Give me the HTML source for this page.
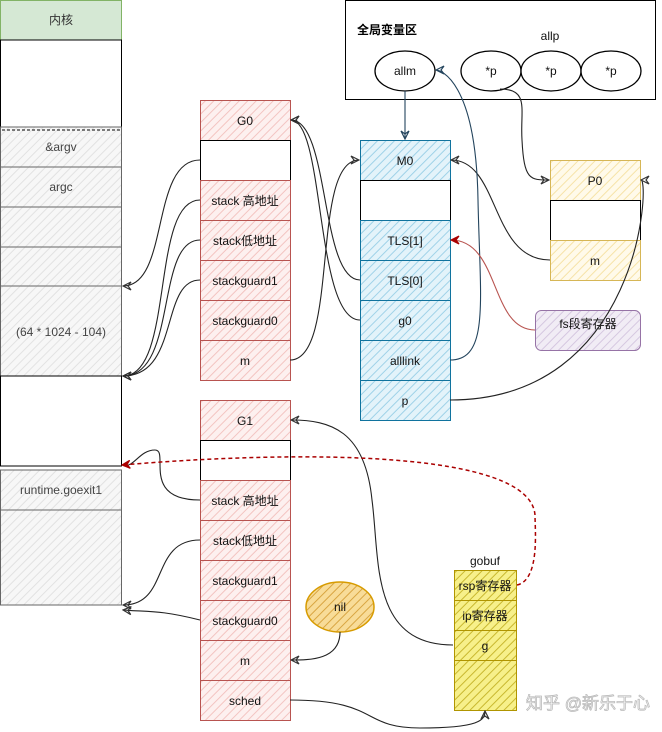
<!DOCTYPE html>
<html><head><meta charset="utf-8"><style>
html,body{margin:0;padding:0;background:#fff;}
svg{display:block;font-family:"Liberation Sans","Noto Sans CJK SC",sans-serif;}
</style></head><body>
<svg width="662" height="732" viewBox="0 0 662 732" xmlns="http://www.w3.org/2000/svg">
<defs>
<pattern id="hg" width="6" height="6" patternUnits="userSpaceOnUse" patternTransform="rotate(45)"><rect width="6" height="6" fill="#f7f7f7"/><line x1="0" y1="0" x2="0" y2="6" stroke="#e2e2e2" stroke-width="2"/></pattern>
<pattern id="hr" width="6" height="6" patternUnits="userSpaceOnUse" patternTransform="rotate(45)"><rect width="6" height="6" fill="#fdf0ef"/><line x1="0" y1="0" x2="0" y2="6" stroke="#f3c4c1" stroke-width="2"/></pattern>
<pattern id="hb" width="6" height="6" patternUnits="userSpaceOnUse" patternTransform="rotate(45)"><rect width="6" height="6" fill="#e3f3fa"/><line x1="0" y1="0" x2="0" y2="6" stroke="#9fd2e8" stroke-width="2"/></pattern>
<pattern id="hy" width="6" height="6" patternUnits="userSpaceOnUse" patternTransform="rotate(45)"><rect width="6" height="6" fill="#fffaea"/><line x1="0" y1="0" x2="0" y2="6" stroke="#f6e3a8" stroke-width="2"/></pattern>
<pattern id="hp" width="6" height="6" patternUnits="userSpaceOnUse" patternTransform="rotate(45)"><rect width="6" height="6" fill="#f1ecf5"/><line x1="0" y1="0" x2="0" y2="6" stroke="#d5c7e0" stroke-width="2"/></pattern>
<pattern id="hY" width="6" height="6" patternUnits="userSpaceOnUse" patternTransform="rotate(45)"><rect width="6" height="6" fill="#f7f08a"/><line x1="0" y1="0" x2="0" y2="6" stroke="#c9b830" stroke-width="2"/></pattern>
<pattern id="hO" width="6" height="6" patternUnits="userSpaceOnUse" patternTransform="rotate(45)"><rect width="6" height="6" fill="#f8dc98"/><line x1="0" y1="0" x2="0" y2="6" stroke="#d8a440" stroke-width="2"/></pattern>
<marker id="ar" markerWidth="10" markerHeight="10" refX="9" refY="5" orient="auto" markerUnits="userSpaceOnUse"><path d="M1,1 L9,5 L1,9 L4,5 Z" fill="none" stroke="#333" stroke-width="1.2"/></marker>
<marker id="arB" markerWidth="10" markerHeight="10" refX="9" refY="5" orient="auto" markerUnits="userSpaceOnUse"><path d="M1,1 L9,5 L1,9 L4,5 Z" fill="none" stroke="#23445d" stroke-width="1.2"/></marker>
<marker id="arR" markerWidth="10" markerHeight="10" refX="9" refY="5" orient="auto" markerUnits="userSpaceOnUse"><path d="M1,1 L9,5 L1,9 L4,5 Z" fill="#a00" stroke="#a00" stroke-width="1.2"/></marker>
</defs>

<!-- left column -->
<g font-size="12" fill="#333" text-anchor="middle">
<rect x="0.5" y="0.5" width="121" height="39.5" fill="#d5e8d4" stroke="#82b366"/>
<text x="61" y="24">内核</text>
<rect x="0.5" y="40" width="121" height="87" fill="#fff" stroke="#000"/>
<rect x="0.5" y="127" width="121" height="40" fill="url(#hg)" stroke="#666"/>
<line x1="2" y1="130" x2="120" y2="130" stroke="#000" stroke-dasharray="3,2"/>
<text x="61" y="151" fill="#444">&amp;argv</text>
<rect x="0.5" y="167" width="121" height="40" fill="url(#hg)" stroke="#666"/>
<text x="61" y="191" fill="#444">argc</text>
<rect x="0.5" y="207" width="121" height="40" fill="url(#hg)" stroke="#666"/>
<rect x="0.5" y="247" width="121" height="39" fill="url(#hg)" stroke="#666"/>
<rect x="0.5" y="286" width="121" height="90" fill="url(#hg)" stroke="#666"/>
<text x="61" y="336" fill="#444">(64 * 1024 - 104)</text>
<rect x="0.5" y="376" width="121" height="90" fill="#fff" stroke="#000"/>
<rect x="0.5" y="470" width="121" height="40" fill="url(#hg)" stroke="#666"/>
<text x="61" y="494" fill="#444">runtime.goexit1</text>
<rect x="0.5" y="510" width="121" height="95" fill="url(#hg)" stroke="#666"/>
</g>

<!-- G0 -->
<g font-size="12" fill="#111" text-anchor="middle">
<rect x="200.5" y="100.5" width="90" height="40" fill="url(#hr)" stroke="#b85450"/><text x="245" y="125">G0</text>
<rect x="200.5" y="140.5" width="90" height="40" fill="#fff" stroke="#000"/>
<rect x="200.5" y="180.5" width="90" height="40" fill="url(#hr)" stroke="#b85450"/><text x="245" y="205">stack 高地址</text>
<rect x="200.5" y="220.5" width="90" height="40" fill="url(#hr)" stroke="#b85450"/><text x="245" y="245">stack低地址</text>
<rect x="200.5" y="260.5" width="90" height="40" fill="url(#hr)" stroke="#b85450"/><text x="245" y="285">stackguard1</text>
<rect x="200.5" y="300.5" width="90" height="40" fill="url(#hr)" stroke="#b85450"/><text x="245" y="325">stackguard0</text>
<rect x="200.5" y="340.5" width="90" height="40" fill="url(#hr)" stroke="#b85450"/><text x="245" y="365">m</text>
</g>
<!-- G1 -->
<g font-size="12" fill="#111" text-anchor="middle">
<rect x="200.5" y="400.5" width="90" height="40" fill="url(#hr)" stroke="#b85450"/><text x="245" y="425">G1</text>
<rect x="200.5" y="440.5" width="90" height="40" fill="#fff" stroke="#000"/>
<rect x="200.5" y="480.5" width="90" height="40" fill="url(#hr)" stroke="#b85450"/><text x="245" y="505">stack 高地址</text>
<rect x="200.5" y="520.5" width="90" height="40" fill="url(#hr)" stroke="#b85450"/><text x="245" y="545">stack低地址</text>
<rect x="200.5" y="560.5" width="90" height="40" fill="url(#hr)" stroke="#b85450"/><text x="245" y="585">stackguard1</text>
<rect x="200.5" y="600.5" width="90" height="40" fill="url(#hr)" stroke="#b85450"/><text x="245" y="625">stackguard0</text>
<rect x="200.5" y="640.5" width="90" height="40" fill="url(#hr)" stroke="#b85450"/><text x="245" y="665">m</text>
<rect x="200.5" y="680.5" width="90" height="40" fill="url(#hr)" stroke="#b85450"/><text x="245" y="705">sched</text>
</g>

<!-- global box -->
<rect x="345.5" y="0.5" width="310" height="99" fill="#fff" stroke="#000"/>
<text x="357" y="34" font-size="12" font-weight="bold" fill="#000">全局变量区</text>
<text x="550" y="40" font-size="12" text-anchor="middle" fill="#111">allp</text>
<g fill="#fff" stroke="#000" stroke-width="1.3">
<ellipse cx="405" cy="71" rx="30" ry="20"/>
<ellipse cx="491" cy="71" rx="30" ry="20"/>
<ellipse cx="551" cy="71" rx="30" ry="20"/>
<ellipse cx="611" cy="71" rx="30" ry="20"/>
</g>
<g font-size="12" text-anchor="middle" fill="#111">
<text x="405" y="75">allm</text><text x="491" y="75">*p</text><text x="551" y="75">*p</text><text x="611" y="75">*p</text>
</g>

<!-- M0 -->
<g font-size="12" fill="#111" text-anchor="middle">
<rect x="360.5" y="140.5" width="90" height="40" fill="url(#hb)" stroke="#10739e"/><text x="405" y="165">M0</text>
<rect x="360.5" y="180.5" width="90" height="40" fill="#fff" stroke="#000"/>
<rect x="360.5" y="220.5" width="90" height="40" fill="url(#hb)" stroke="#10739e"/><text x="405" y="245">TLS[1]</text>
<rect x="360.5" y="260.5" width="90" height="40" fill="url(#hb)" stroke="#10739e"/><text x="405" y="285">TLS[0]</text>
<rect x="360.5" y="300.5" width="90" height="40" fill="url(#hb)" stroke="#10739e"/><text x="405" y="325">g0</text>
<rect x="360.5" y="340.5" width="90" height="40" fill="url(#hb)" stroke="#10739e"/><text x="405" y="365">alllink</text>
<rect x="360.5" y="380.5" width="90" height="40" fill="url(#hb)" stroke="#10739e"/><text x="405" y="405">p</text>
</g>

<!-- P0 -->
<g font-size="12" fill="#111" text-anchor="middle">
<rect x="550.5" y="160.5" width="90" height="40" fill="url(#hy)" stroke="#d6b656"/><text x="595" y="185">P0</text>
<rect x="550.5" y="200.5" width="90" height="40" fill="#fff" stroke="#000"/>
<rect x="550.5" y="240.5" width="90" height="40" fill="url(#hy)" stroke="#d6b656"/><text x="595" y="265">m</text>
<rect x="535.5" y="310.5" width="105" height="40" rx="6" fill="url(#hp)" stroke="#9673a6"/><text x="588" y="328">fs段寄存器</text>
</g>

<!-- nil -->
<ellipse cx="340" cy="607" rx="34" ry="25" fill="url(#hO)" stroke="#d79b00" stroke-width="1.5"/>
<text x="340" y="611" font-size="12" text-anchor="middle" fill="#111">nil</text>

<!-- gobuf -->
<text x="485" y="565" font-size="12" text-anchor="middle" fill="#111">gobuf</text>
<g font-size="12" fill="#111" text-anchor="middle">
<rect x="454.5" y="570.5" width="62" height="30" fill="url(#hY)" stroke="#b09500"/><text x="485" y="590">rsp寄存器</text>
<rect x="454.5" y="600.5" width="62" height="30" fill="url(#hY)" stroke="#b09500"/><text x="485" y="620">ip寄存器</text>
<rect x="454.5" y="630.5" width="62" height="30" fill="url(#hY)" stroke="#b09500"/><text x="485" y="650">g</text>
<rect x="454.5" y="660.5" width="62" height="50" fill="url(#hY)" stroke="#b09500"/>
</g>

<!-- connectors -->
<g fill="none" stroke="#222" stroke-width="1.1">
<path d="M200,160 C150,160 170,286 123,286" marker-end="url(#ar)"/>
<path d="M200,200 C150,200 175,376 123,376" marker-end="url(#ar)"/>
<path d="M200,240 C155,240 178,376 123,376" marker-end="url(#ar)"/>
<path d="M200,280 C160,280 180,376 123,376" marker-end="url(#ar)"/>
<path d="M290,360 C340,360 310,160 359,160" marker-end="url(#ar)"/>
<path d="M360,280 C320,280 330,120 291,120" marker-end="url(#ar)"/>
<path d="M360,320 C315,320 325,120 291,120" marker-end="url(#ar)"/>
<path d="M550,260 C490,260 500,160 451,160" marker-end="url(#ar)"/>
<path d="M500,89 C530,89 520,110 522,140 C524,180 530,180 549,180" marker-end="url(#ar)"/>
<path d="M450,400 C640,400 650,180 641,180" marker-end="url(#ar)"/>
<path d="M200,500 C140,500 170,450 155,450 C140,450 135,466 124,466"/>
<path d="M200,540 C150,540 170,605 123,605" marker-end="url(#ar)"/>
<path d="M200,620 C160,610 150,612 123,610" marker-end="url(#ar)"/>
<path d="M340,632 C340,660 310,660 291,660" marker-end="url(#ar)"/>
<path d="M290,700 C380,700 360,728 420,728 C480,728 485,720 485,711" marker-end="url(#ar)"/>
<path d="M453,645 C370,645 380,560 372,500 C365,430 330,420 291,420" marker-end="url(#ar)"/>
</g>
<path d="M405,91 L405,139" fill="none" stroke="#23445d" stroke-width="1.1" marker-end="url(#arB)"/>
<path d="M450,360 C490,360 480,300 478,200 C476,80 440,70 436,70" fill="none" stroke="#23445d" stroke-width="1.1" marker-end="url(#arB)"/>
<path d="M535,330 C490,330 500,240 451,240" fill="none" stroke="#b85450" stroke-width="1.1" marker-end="url(#arR)"/>
<path d="M517,585 C540,580 535,530 535,515 C530,450 300,450 122,465" fill="none" stroke="#a00" stroke-width="1.5" stroke-dasharray="4,3" marker-end="url(#arR)"/>

<text x="588" y="709" font-size="17" text-anchor="middle" fill="#ffffff" stroke="#bbb" stroke-width="0.8">知乎 @新乐于心</text>
</svg>
</body></html>
